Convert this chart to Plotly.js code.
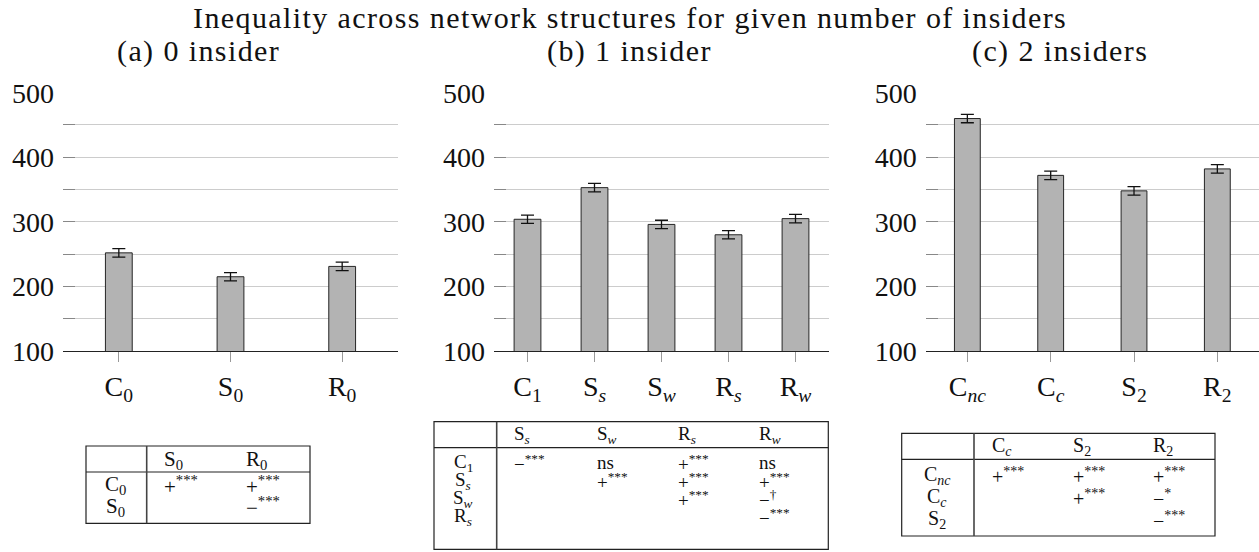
<!DOCTYPE html>
<html>
<head>
<meta charset="utf-8">
<script src="https://cdn.plot.ly/plotly-2.35.2.min.js"></script>
<style>html,body{margin:0;padding:0;background:#fff;}#chart{width:1259px;height:552px;}</style>
</head>
<body>
<div id="chart"></div>
<script>
// ---------- data ----------
const mainTitle = 'Inequality across network structures for given number of insiders';
const panelTitles = ['(a) 0 insider', '(b) 1 insider', '(c) 2 insiders'];

const catsA = ['C<sub>0</sub>', 'S<sub>0</sub>', 'R<sub>0</sub>'];
const valsA = [252, 215, 231];
const errA  = [6.5, 6.5, 6.5];

const catsB = ['C<sub>1</sub>', 'S<sub><i>s</i></sub>', 'S<sub><i>w</i></sub>', 'R<sub><i>s</i></sub>', 'R<sub><i>w</i></sub>'];
const valsB = [304, 353, 296, 280, 305];
const errB  = [6.5, 6.5, 6.5, 6.5, 6.5];

const catsC = ['C<sub><i>nc</i></sub>', 'C<sub><i>c</i></sub>', 'S<sub>2</sub>', 'R<sub>2</sub>'];
const valsC = [460, 372, 348, 382];
const errC  = [6.5, 6.5, 6.5, 6.5];

const yTickVals = [100, 150, 200, 250, 300, 350, 400, 450, 500];
const yTickText = ['100', '', '200', '', '300', '', '400', '', '500'];

// significance tables
const tabAcols = ['S<sub>0</sub>', 'R<sub>0</sub>'];
const tabArows = ['C<sub>0</sub>', 'S<sub>0</sub>'];
const tabAcells = [
  ['+<sup>***</sup>', '+<sup>***</sup>'],
  ['', '−<sup>***</sup>']
];

const tabBcols = ['S<sub><i>s</i></sub>', 'S<sub><i>w</i></sub>', 'R<sub><i>s</i></sub>', 'R<sub><i>w</i></sub>'];
const tabBrows = ['C<sub>1</sub>', 'S<sub><i>s</i></sub>', 'S<sub><i>w</i></sub>', 'R<sub><i>s</i></sub>'];
const tabBcells = [
  ['−<sup>***</sup>', 'ns', '+<sup>***</sup>', 'ns'],
  ['', '+<sup>***</sup>', '+<sup>***</sup>', '+<sup>***</sup>'],
  ['', '', '+<sup>***</sup>', '−<sup>†</sup>'],
  ['', '', '', '−<sup>***</sup>']
];

const tabCcols = ['C<sub><i>c</i></sub>', 'S<sub>2</sub>', 'R<sub>2</sub>'];
const tabCrows = ['C<sub><i>nc</i></sub>', 'C<sub><i>c</i></sub>', 'S<sub>2</sub>'];
const tabCcells = [
  ['+<sup>***</sup>', '+<sup>***</sup>', '+<sup>***</sup>'],
  ['', '+<sup>***</sup>', '−<sup>*</sup>'],
  ['', '', '−<sup>***</sup>']
];

// ---------- layout helpers ----------
const W = 1259, H = 552;
const FONT = 'Liberation Serif';
const px = x => x / W;
const py = y => 1 - y / H;
const spaced = t => '<span style="letter-spacing:1.4px">' + t + '</span>';

function barTrace(cats, vals, errs, ax, width) {
  return {
    type: 'bar', x: cats, y: vals, xaxis: 'x' + ax, yaxis: 'y' + ax,
    width: width,
    marker: {color: '#b3b3b3', line: {color: '#262626', width: 1}},
    error_y: {type: 'data', array: errs, visible: true, color: '#111', thickness: 1.3, width: 6.5},
    hoverinfo: 'x+y'
  };
}

const traces = [
  barTrace(catsA, valsA, errA, '', 0.24),
  barTrace(catsB, valsB, errB, '2', 0.40),
  barTrace(catsC, valsC, errC, '3', 0.31)
];

const yDomain = [py(351), py(92.7)];
function xAx(l, r, n) {
  return {
    domain: [px(l), Math.min(1, px(r))], range: [-0.5, n - 0.5], type: 'category',
    showline: true, linecolor: '#222', linewidth: 1.2,
    ticks: 'outside', ticklen: 10, tickcolor: '#999', tickwidth: 1,
    showgrid: false, zeroline: false, fixedrange: true,
    tickfont: {family: FONT, size: 28, color: '#111'}
  };
}
function yAx(anchor) {
  return {
    domain: yDomain, range: [100, 500], anchor: anchor,
    tickvals: yTickVals, ticktext: yTickText,
    ticks: 'inside', ticklen: 12, tickcolor: '#888', tickwidth: 1,
    ticklabelstandoff: 8,
    showgrid: true, gridcolor: '#cccccc', gridwidth: 1,
    showline: false, zeroline: false, fixedrange: true,
    tickfont: {family: FONT, size: 28, color: '#111'}
  };
}

const layout = {
  width: W, height: H,
  margin: {l: 0, r: 0, t: 0, b: 0},
  paper_bgcolor: '#fff', plot_bgcolor: '#fff',
  font: {family: FONT, color: '#111'},
  showlegend: false, bargap: 0,
  xaxis: Object.assign(xAx(63, 398, catsA.length), {anchor: 'y'}),
  yaxis: yAx('x'),
  xaxis2: Object.assign(xAx(494, 829, catsB.length), {anchor: 'y2'}),
  yaxis2: yAx('x2'),
  xaxis3: Object.assign(xAx(925.7, 1262, catsC.length), {anchor: 'y3'}),
  yaxis3: yAx('x3'),
  annotations: [],
  shapes: []
};

// titles
layout.annotations.push({text: spaced(mainTitle), xref: 'paper', yref: 'paper', x: px(629.5), y: py(17),
  xanchor: 'center', yanchor: 'middle', showarrow: false, font: {family: FONT, size: 30, color: '#111'}});
const subCenters = [198, 629, 1060];
panelTitles.forEach((t, i) => {
  layout.annotations.push({text: spaced(t), xref: 'paper', yref: 'paper', x: px(subCenters[i]), y: py(51),
    xanchor: 'center', yanchor: 'middle', showarrow: false, font: {family: FONT, size: 30, color: '#111'}});
});

// tables
function drawTable(cols, rows, cells, g) {
  const lineStyle = {color: '#222', width: 1.2};
  layout.shapes.push({type: 'rect', xref: 'paper', yref: 'paper', x0: px(g.left), x1: px(g.right),
    y0: py(g.bottom), y1: py(g.top), line: lineStyle});
  layout.shapes.push({type: 'line', xref: 'paper', yref: 'paper', x0: px(g.left), x1: px(g.right),
    y0: py(g.headLine), y1: py(g.headLine), line: lineStyle});
  layout.shapes.push({type: 'line', xref: 'paper', yref: 'paper', x0: px(g.vLine), x1: px(g.vLine),
    y0: py(g.bottom), y1: py(g.top), line: {color: '#444', width: 1.6}});
  const f = {family: FONT, size: g.fs, color: '#111'};
  cols.forEach((c, j) => {
    layout.annotations.push({text: c, xref: 'paper', yref: 'paper', x: px(g.colX[j]), y: py(g.headY),
      xanchor: 'left', yanchor: 'middle', showarrow: false, font: f});
  });
  rows.forEach((r, i) => {
    const yy = g.rowY0 + i * g.rowStep;
    layout.annotations.push({text: r, xref: 'paper', yref: 'paper', x: px(g.rowLabX), y: py(yy),
      xanchor: 'center', yanchor: 'middle', showarrow: false, font: f});
    cells[i].forEach((c, j) => {
      if (!c) return;
      layout.annotations.push({text: c, xref: 'paper', yref: 'paper', x: px(g.colX[j]), y: py(yy),
        xanchor: 'left', yanchor: 'middle', showarrow: false, font: f});
    });
  });
}

drawTable(tabAcols, tabArows, tabAcells, {left: 86, right: 310, top: 446, headLine: 472, bottom: 523.3,
  vLine: 146.7, colX: [162, 244], headY: 460, rowY0: 485, rowStep: 21.5, rowLabX: 115, fs: 21});
drawTable(tabBcols, tabBrows, tabBcells, {left: 434, right: 828.3, top: 421.7, headLine: 447.7, bottom: 549.3,
  vLine: 496.7, colX: [512, 594.5, 675.5, 757], headY: 434.5, rowY0: 462.5, rowStep: 18, rowLabX: 463.3, fs: 19});
drawTable(tabCcols, tabCrows, tabCcells, {left: 901.7, right: 1215, top: 433.3, headLine: 459.3, bottom: 536,
  vLine: 974, colX: [990, 1071, 1151], headY: 446.5, rowY0: 475.5, rowStep: 22, rowLabX: 937, fs: 20});

Plotly.newPlot('chart', traces, layout, {displayModeBar: false, staticPlot: true});
</script>
</body>
</html>
